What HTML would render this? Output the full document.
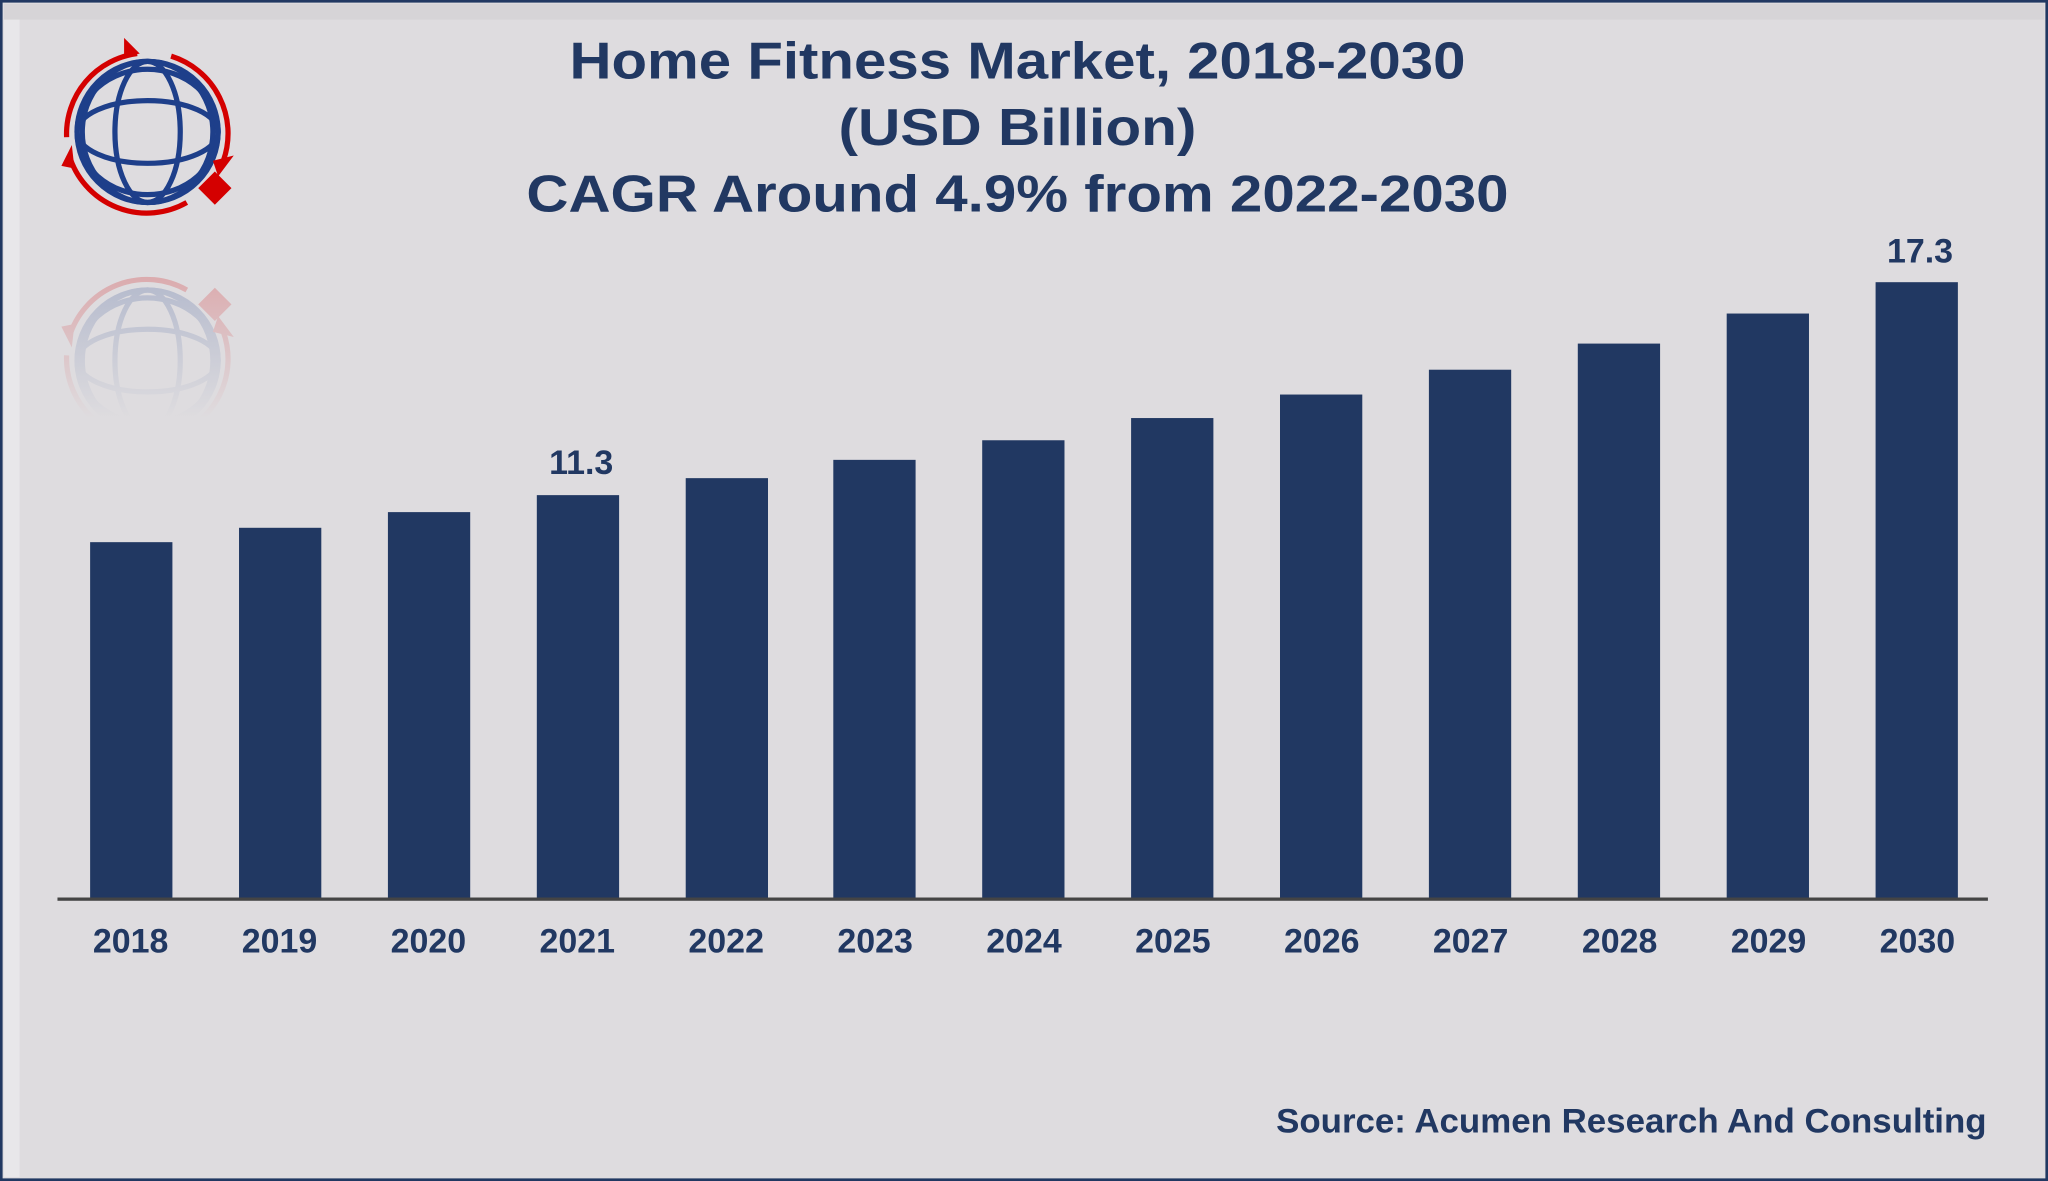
<!DOCTYPE html>
<html><head><meta charset="utf-8"><style>
html,body{margin:0;padding:0;background:#dedcdf;}
svg{display:block;}
text{font-family:"Liberation Sans",Arial,sans-serif;font-weight:bold;fill:#213862;}
</style></head><body>
<svg width="2048" height="1181" viewBox="0 0 1568 904" preserveAspectRatio="none" xmlns="http://www.w3.org/2000/svg">
<defs>
<linearGradient id="fade" x1="0" y1="0" x2="0" y2="1">
<stop offset="0" stop-color="#dedcdf" stop-opacity="0.2"/>
<stop offset="0.8" stop-color="#dedcdf" stop-opacity="1"/>
<stop offset="1" stop-color="#dedcdf" stop-opacity="1"/>
</linearGradient>
<g id="logo">
<g fill="none" stroke="#1e3f8a" stroke-width="4">
<circle cx="0" cy="0" r="54"/>
<ellipse cx="0" cy="0" rx="25" ry="54"/>
<ellipse cx="0" cy="0" rx="50" ry="54"/>
<ellipse cx="0" cy="0" rx="54" ry="24"/>
<ellipse cx="0" cy="0" rx="54" ry="48"/>
</g>
<g fill="none" stroke="#d40000" stroke-width="4">
<path d="M -62 4 A 62 62 0 0 1 -8 -60"/>
<path d="M 18 -58 A 62 62 0 0 1 58 22"/>
<path d="M 30 54 A 62 62 0 0 1 -60 18"/>
</g>
<path d="M -18 -72 L -6 -60 L -18 -58 Z" fill="#d40000"/>
<path d="M 66 18 L 54 34 L 50 22 Z" fill="#d40000"/>
<path d="M -58 10 L -56 28 L -66 26 Z" fill="#d40000"/>
<rect x="34" y="34" width="18" height="18" fill="#d40000" transform="rotate(45 43 43) translate(6 -6)"/>
</g>
</defs>
<rect x="0" y="0" width="1568" height="904" fill="#dedcdf"/>
<rect x="1" y="1" width="1566" height="902" fill="none" stroke="#213862" stroke-width="2"/>
<rect x="3" y="3" width="12" height="898" fill="#e8e7ea"/>
<rect x="3" y="3" width="1562" height="12" fill="#d6d4d7"/>

<use href="#logo" transform="translate(113,101)"/>
<g opacity="0.3"><use href="#logo" transform="translate(113,276) scale(1,-1)"/></g>
<rect x="38" y="200" width="160" height="150" fill="url(#fade)"/>

<text x="779" y="60" font-size="40" text-anchor="middle" textLength="686" lengthAdjust="spacingAndGlyphs">Home Fitness Market, 2018-2030</text>
<text x="779" y="111" font-size="40" text-anchor="middle" textLength="274" lengthAdjust="spacingAndGlyphs">(USD Billion)</text>
<text x="779" y="162" font-size="40" text-anchor="middle" textLength="752" lengthAdjust="spacingAndGlyphs">CAGR Around 4.9% from 2022-2030</text>

<g fill="#213862">
<rect x="69" y="415" width="63" height="273"/>
<rect x="183" y="404" width="63" height="284"/>
<rect x="297" y="392" width="63" height="296"/>
<rect x="411" y="379" width="63" height="309"/>
<rect x="525" y="366" width="63" height="322"/>
<rect x="638" y="352" width="63" height="336"/>
<rect x="752" y="337" width="63" height="351"/>
<rect x="866" y="320" width="63" height="368"/>
<rect x="980" y="302" width="63" height="386"/>
<rect x="1094" y="283" width="63" height="405"/>
<rect x="1208" y="263" width="63" height="425"/>
<rect x="1322" y="240" width="63" height="448"/>
<rect x="1436" y="216" width="63" height="472"/>
</g>
<rect x="44" y="687" width="1478" height="2.5" fill="#444"/>

<text x="445" y="363" font-size="26" text-anchor="middle">11.3</text>
<text x="1470" y="201" font-size="26" text-anchor="middle">17.3</text>

<g font-size="26" text-anchor="middle">
<text x="100" y="729">2018</text>
<text x="214" y="729">2019</text>
<text x="328" y="729">2020</text>
<text x="442" y="729">2021</text>
<text x="556" y="729">2022</text>
<text x="670" y="729">2023</text>
<text x="784" y="729">2024</text>
<text x="898" y="729">2025</text>
<text x="1012" y="729">2026</text>
<text x="1126" y="729">2027</text>
<text x="1240" y="729">2028</text>
<text x="1354" y="729">2029</text>
<text x="1468" y="729">2030</text>
</g>
<text x="1521" y="867" font-size="26" text-anchor="end" textLength="544" lengthAdjust="spacingAndGlyphs">Source: Acumen Research And Consulting</text>
</svg>
</body></html>
